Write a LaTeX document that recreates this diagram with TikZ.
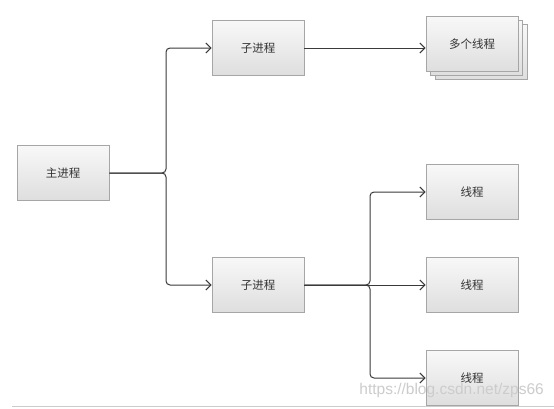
\documentclass[tikz,border=0pt]{standalone}
\usepackage{fontspec}
\newfontfamily\cjk{Noto Sans CJK SC}
\newfontfamily\wmfont{Liberation Sans}
\usetikzlibrary{arrows.meta}
\definecolor{boxline}{HTML}{A6A6A6}
\definecolor{boxtop}{HTML}{F8F8F8}
\definecolor{boxbot}{HTML}{DEDEDE}
\definecolor{conn}{HTML}{3A3A3A}
\begin{document}
\begin{tikzpicture}[x=1pt,y=-1pt,
  procbox/.style={draw=boxline,line width=0.9pt,top color=boxtop,bottom color=boxbot,
    minimum width=92pt,minimum height=55pt,inner sep=0pt,font=\cjk\fontsize{11.5}{13}\selectfont,text=black!80},
  link/.style={draw=conn,line width=1pt,rounded corners=4pt,-{Straight Barb[length=5pt,width=10pt,line width=1pt]}}]
\useasboundingbox (0,0) rectangle (554,408);
\fill[white] (0,0) rectangle (554,408);
% nodes
\node[procbox] (main) at (63,173) {主进程};
\node[procbox] (sub1) at (258,48) {子进程};
\node[procbox] (sub2) at (258,285) {子进程};
\node[procbox] (multiC) at (481,52) {};
\node[procbox] (multiB) at (476,48) {};
\node[procbox] (multi) at (472,44) {多个线程};
\node[procbox] (t1) at (472,192) {线程};
\node[procbox] (t2) at (472,285) {线程};
\node[procbox] (t3) at (472,378) {线程};
% junction points
\coordinate (j1) at (166,0);
\coordinate (j2) at (370,0);
% connectors
\draw[link] (main.east) -- (main.east -| j1) -- (sub1.west -| j1) -- (sub1.west);
\draw[link] (main.east) -- (main.east -| j1) -- (sub2.west -| j1) -- (sub2.west);
\draw[link] (sub1.east) -- (multi.west |- sub1.east);
\draw[link] (sub2.east) -- (sub2.east -| j2) -- (t1.west -| j2) -- (t1.west);
\draw[link] (sub2.east) -- (t2.west);
\draw[link] (sub2.east) -- (sub2.east -| j2) -- (t3.west -| j2) -- (t3.west);
% bottom rule
\draw[gray!40,line width=1.2pt] (12,406.5) -- (554,406.5);
% watermark
\node[font=\wmfont\fontsize{15.5}{17}\selectfont,text=gray!40,anchor=east,inner sep=0pt] (wm) at (544,390) {https://blog.csdn.net/zps66};
\end{tikzpicture}
\end{document}
